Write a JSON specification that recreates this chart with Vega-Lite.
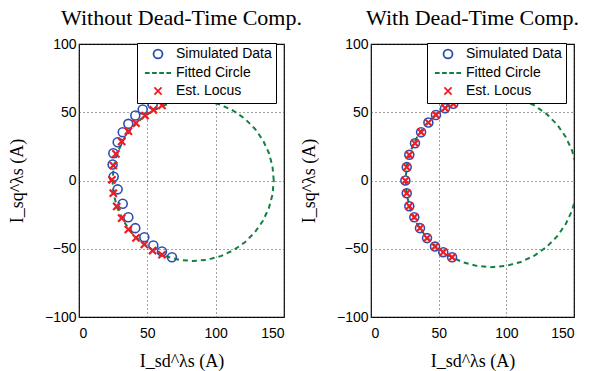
{
  "$schema": "https://vega.github.io/schema/vega-lite/v6.json",
  "background": "white",
  "padding": {"left": 7, "top": 6, "right": 5, "bottom": 3},
  "config": {
    "view": {"stroke": "black", "strokeWidth": 1.2},
    "title": {"font": "Liberation Serif", "fontSize": 22, "fontWeight": "normal", "color": "black", "offset": 7},
    "axis": {
      "labelFont": "Liberation Sans", "labelFontSize": 14, "labelColor": "black",
      "titleFont": "Liberation Serif", "titleFontSize": 18, "titleFontWeight": "normal", "titleColor": "black",
      "grid": true, "gridColor": "#333", "gridDash": [1, 3], "gridOpacity": 0.9, "gridWidth": 1,
      "domain": false, "ticks": false
    },
    "axisX": {"labelPadding": 9, "titlePadding": 12},
    "axisY": {"labelPadding": 3, "titlePadding": 18},
    "legend": {
      "padding": 4, "strokeColor": "black", "fillColor": "white",
      "labelFont": "Liberation Sans", "labelFontSize": 14, "labelColor": "black",
      "symbolSize": 80, "symbolStrokeWidth": 1.8, "symbolOffset": 10, "labelOffset": 11,
      "rowPadding": 3, "title": null, "cornerRadius": 0, "strokeWidth": 1
    }
  },
  "data": {"values": [
    {"panel": "L", "series": "Simulated Data", "x": 68, "y": -56.2},
    {"panel": "L", "series": "Simulated Data", "x": 60.7, "y": -52},
    {"panel": "L", "series": "Simulated Data", "x": 54.4, "y": -47.6},
    {"panel": "L", "series": "Simulated Data", "x": 47.8, "y": -41.5},
    {"panel": "L", "series": "Simulated Data", "x": 41.2, "y": -34.9},
    {"panel": "L", "series": "Simulated Data", "x": 36.1, "y": -26.9},
    {"panel": "L", "series": "Simulated Data", "x": 32, "y": -17},
    {"panel": "L", "series": "Simulated Data", "x": 28.3, "y": -6.5},
    {"panel": "L", "series": "Simulated Data", "x": 25.4, "y": 2.8},
    {"panel": "L", "series": "Simulated Data", "x": 24.6, "y": 11.7},
    {"panel": "L", "series": "Simulated Data", "x": 25.1, "y": 20},
    {"panel": "L", "series": "Simulated Data", "x": 28.3, "y": 28},
    {"panel": "L", "series": "Simulated Data", "x": 32, "y": 35.4},
    {"panel": "L", "series": "Simulated Data", "x": 36.1, "y": 41.5},
    {"panel": "L", "series": "Simulated Data", "x": 41.2, "y": 47.6},
    {"panel": "L", "series": "Simulated Data", "x": 46.6, "y": 52},
    {"panel": "L", "series": "Simulated Data", "x": 53.9, "y": 55.7},
    {"panel": "L", "series": "Est. Locus", "x": 60.7, "y": 55},
    {"panel": "L", "series": "Est. Locus", "x": 54.4, "y": 51.8},
    {"panel": "L", "series": "Est. Locus", "x": 48.3, "y": 47.6},
    {"panel": "L", "series": "Est. Locus", "x": 41.7, "y": 42},
    {"panel": "L", "series": "Est. Locus", "x": 36.1, "y": 36.1},
    {"panel": "L", "series": "Est. Locus", "x": 31.2, "y": 28.6},
    {"panel": "L", "series": "Est. Locus", "x": 27, "y": 19.5},
    {"panel": "L", "series": "Est. Locus", "x": 25.1, "y": 11},
    {"panel": "L", "series": "Est. Locus", "x": 24.1, "y": 0.5},
    {"panel": "L", "series": "Est. Locus", "x": 25.1, "y": -9.3},
    {"panel": "L", "series": "Est. Locus", "x": 27.6, "y": -19},
    {"panel": "L", "series": "Est. Locus", "x": 31.2, "y": -27.6},
    {"panel": "L", "series": "Est. Locus", "x": 36.1, "y": -35.9},
    {"panel": "L", "series": "Est. Locus", "x": 41.7, "y": -42},
    {"panel": "L", "series": "Est. Locus", "x": 47.8, "y": -46.9},
    {"panel": "L", "series": "Est. Locus", "x": 53.9, "y": -51.3},
    {"panel": "L", "series": "Est. Locus", "x": 60.7, "y": -54.4},
    {"panel": "R", "series": "Simulated Data", "x": 60.8, "y": 56.2},
    {"panel": "R", "series": "Simulated Data", "x": 54.7, "y": 53},
    {"panel": "R", "series": "Simulated Data", "x": 48, "y": 48},
    {"panel": "R", "series": "Simulated Data", "x": 42.4, "y": 42.5},
    {"panel": "R", "series": "Simulated Data", "x": 37, "y": 35.4},
    {"panel": "R", "series": "Simulated Data", "x": 32.5, "y": 27.3},
    {"panel": "R", "series": "Simulated Data", "x": 28.3, "y": 18.8},
    {"panel": "R", "series": "Simulated Data", "x": 26.4, "y": 9.8},
    {"panel": "R", "series": "Simulated Data", "x": 25.4, "y": 0},
    {"panel": "R", "series": "Simulated Data", "x": 26.4, "y": -9.3},
    {"panel": "R", "series": "Simulated Data", "x": 28.3, "y": -18.8},
    {"panel": "R", "series": "Simulated Data", "x": 32, "y": -26.9},
    {"panel": "R", "series": "Simulated Data", "x": 36.2, "y": -34.9},
    {"panel": "R", "series": "Simulated Data", "x": 41.4, "y": -42.2},
    {"panel": "R", "series": "Simulated Data", "x": 47.3, "y": -48.4},
    {"panel": "R", "series": "Simulated Data", "x": 53.4, "y": -52.5},
    {"panel": "R", "series": "Simulated Data", "x": 59.9, "y": -56.2},
    {"panel": "R", "series": "Est. Locus", "x": 60.8, "y": 56.2},
    {"panel": "R", "series": "Est. Locus", "x": 54.7, "y": 53},
    {"panel": "R", "series": "Est. Locus", "x": 48, "y": 48},
    {"panel": "R", "series": "Est. Locus", "x": 42.4, "y": 42.5},
    {"panel": "R", "series": "Est. Locus", "x": 37, "y": 35.4},
    {"panel": "R", "series": "Est. Locus", "x": 32.5, "y": 27.3},
    {"panel": "R", "series": "Est. Locus", "x": 28.3, "y": 18.8},
    {"panel": "R", "series": "Est. Locus", "x": 26.4, "y": 9.8},
    {"panel": "R", "series": "Est. Locus", "x": 25.4, "y": 0},
    {"panel": "R", "series": "Est. Locus", "x": 26.4, "y": -9.3},
    {"panel": "R", "series": "Est. Locus", "x": 28.3, "y": -18.8},
    {"panel": "R", "series": "Est. Locus", "x": 32, "y": -26.9},
    {"panel": "R", "series": "Est. Locus", "x": 36.2, "y": -34.9},
    {"panel": "R", "series": "Est. Locus", "x": 41.4, "y": -42.2},
    {"panel": "R", "series": "Est. Locus", "x": 47.3, "y": -48.4},
    {"panel": "R", "series": "Est. Locus", "x": 53.4, "y": -52.5},
    {"panel": "R", "series": "Est. Locus", "x": 59.9, "y": -56.2},
    {"panel": "L", "series": "Fitted Circle", "i": 0, "x": 142.5, "y": 0},
    {"panel": "L", "series": "Fitted Circle", "i": 1, "x": 141.6, "y": 10.24},
    {"panel": "L", "series": "Fitted Circle", "i": 2, "x": 138.94, "y": 20.18},
    {"panel": "L", "series": "Fitted Circle", "i": 3, "x": 134.6, "y": 29.5},
    {"panel": "L", "series": "Fitted Circle", "i": 4, "x": 128.7, "y": 37.92},
    {"panel": "L", "series": "Fitted Circle", "i": 5, "x": 121.42, "y": 45.2},
    {"panel": "L", "series": "Fitted Circle", "i": 6, "x": 113, "y": 51.1},
    {"panel": "L", "series": "Fitted Circle", "i": 7, "x": 103.68, "y": 55.44},
    {"panel": "L", "series": "Fitted Circle", "i": 8, "x": 93.74, "y": 58.1},
    {"panel": "L", "series": "Fitted Circle", "i": 9, "x": 83.5, "y": 59},
    {"panel": "L", "series": "Fitted Circle", "i": 10, "x": 73.26, "y": 58.1},
    {"panel": "L", "series": "Fitted Circle", "i": 11, "x": 63.32, "y": 55.44},
    {"panel": "L", "series": "Fitted Circle", "i": 12, "x": 54, "y": 51.1},
    {"panel": "L", "series": "Fitted Circle", "i": 13, "x": 45.58, "y": 45.2},
    {"panel": "L", "series": "Fitted Circle", "i": 14, "x": 38.3, "y": 37.92},
    {"panel": "L", "series": "Fitted Circle", "i": 15, "x": 32.4, "y": 29.5},
    {"panel": "L", "series": "Fitted Circle", "i": 16, "x": 28.06, "y": 20.18},
    {"panel": "L", "series": "Fitted Circle", "i": 17, "x": 25.4, "y": 10.24},
    {"panel": "L", "series": "Fitted Circle", "i": 18, "x": 24.5, "y": 0},
    {"panel": "L", "series": "Fitted Circle", "i": 19, "x": 25.4, "y": -10.24},
    {"panel": "L", "series": "Fitted Circle", "i": 20, "x": 28.06, "y": -20.18},
    {"panel": "L", "series": "Fitted Circle", "i": 21, "x": 32.4, "y": -29.5},
    {"panel": "L", "series": "Fitted Circle", "i": 22, "x": 38.3, "y": -37.92},
    {"panel": "L", "series": "Fitted Circle", "i": 23, "x": 45.58, "y": -45.2},
    {"panel": "L", "series": "Fitted Circle", "i": 24, "x": 54, "y": -51.1},
    {"panel": "L", "series": "Fitted Circle", "i": 25, "x": 63.32, "y": -55.44},
    {"panel": "L", "series": "Fitted Circle", "i": 26, "x": 73.26, "y": -58.1},
    {"panel": "L", "series": "Fitted Circle", "i": 27, "x": 83.5, "y": -59},
    {"panel": "L", "series": "Fitted Circle", "i": 28, "x": 93.74, "y": -58.1},
    {"panel": "L", "series": "Fitted Circle", "i": 29, "x": 103.68, "y": -55.44},
    {"panel": "L", "series": "Fitted Circle", "i": 30, "x": 113, "y": -51.1},
    {"panel": "L", "series": "Fitted Circle", "i": 31, "x": 121.42, "y": -45.2},
    {"panel": "L", "series": "Fitted Circle", "i": 32, "x": 128.7, "y": -37.92},
    {"panel": "L", "series": "Fitted Circle", "i": 33, "x": 134.6, "y": -29.5},
    {"panel": "L", "series": "Fitted Circle", "i": 34, "x": 138.94, "y": -20.18},
    {"panel": "L", "series": "Fitted Circle", "i": 35, "x": 141.6, "y": -10.24},
    {"panel": "L", "series": "Fitted Circle", "i": 36, "x": 142.5, "y": 0},
    {"panel": "R", "series": "Fitted Circle", "i": 0, "x": 152.5, "y": 0},
    {"panel": "R", "series": "Fitted Circle", "i": 1, "x": 151.53, "y": 11.03},
    {"panel": "R", "series": "Fitted Circle", "i": 2, "x": 148.67, "y": 21.72},
    {"panel": "R", "series": "Fitted Circle", "i": 3, "x": 143.99, "y": 31.75},
    {"panel": "R", "series": "Fitted Circle", "i": 4, "x": 137.64, "y": 40.82},
    {"panel": "R", "series": "Fitted Circle", "i": 5, "x": 129.82, "y": 48.64},
    {"panel": "R", "series": "Fitted Circle", "i": 6, "x": 120.75, "y": 54.99},
    {"panel": "R", "series": "Fitted Circle", "i": 7, "x": 110.72, "y": 59.67},
    {"panel": "R", "series": "Fitted Circle", "i": 8, "x": 100.03, "y": 62.53},
    {"panel": "R", "series": "Fitted Circle", "i": 9, "x": 89, "y": 63.5},
    {"panel": "R", "series": "Fitted Circle", "i": 10, "x": 77.97, "y": 62.53},
    {"panel": "R", "series": "Fitted Circle", "i": 11, "x": 67.28, "y": 59.67},
    {"panel": "R", "series": "Fitted Circle", "i": 12, "x": 57.25, "y": 54.99},
    {"panel": "R", "series": "Fitted Circle", "i": 13, "x": 48.18, "y": 48.64},
    {"panel": "R", "series": "Fitted Circle", "i": 14, "x": 40.36, "y": 40.82},
    {"panel": "R", "series": "Fitted Circle", "i": 15, "x": 34.01, "y": 31.75},
    {"panel": "R", "series": "Fitted Circle", "i": 16, "x": 29.33, "y": 21.72},
    {"panel": "R", "series": "Fitted Circle", "i": 17, "x": 26.47, "y": 11.03},
    {"panel": "R", "series": "Fitted Circle", "i": 18, "x": 25.5, "y": 0},
    {"panel": "R", "series": "Fitted Circle", "i": 19, "x": 26.47, "y": -11.03},
    {"panel": "R", "series": "Fitted Circle", "i": 20, "x": 29.33, "y": -21.72},
    {"panel": "R", "series": "Fitted Circle", "i": 21, "x": 34.01, "y": -31.75},
    {"panel": "R", "series": "Fitted Circle", "i": 22, "x": 40.36, "y": -40.82},
    {"panel": "R", "series": "Fitted Circle", "i": 23, "x": 48.18, "y": -48.64},
    {"panel": "R", "series": "Fitted Circle", "i": 24, "x": 57.25, "y": -54.99},
    {"panel": "R", "series": "Fitted Circle", "i": 25, "x": 67.28, "y": -59.67},
    {"panel": "R", "series": "Fitted Circle", "i": 26, "x": 77.97, "y": -62.53},
    {"panel": "R", "series": "Fitted Circle", "i": 27, "x": 89, "y": -63.5},
    {"panel": "R", "series": "Fitted Circle", "i": 28, "x": 100.03, "y": -62.53},
    {"panel": "R", "series": "Fitted Circle", "i": 29, "x": 110.72, "y": -59.67},
    {"panel": "R", "series": "Fitted Circle", "i": 30, "x": 120.75, "y": -54.99},
    {"panel": "R", "series": "Fitted Circle", "i": 31, "x": 129.82, "y": -48.64},
    {"panel": "R", "series": "Fitted Circle", "i": 32, "x": 137.64, "y": -40.82},
    {"panel": "R", "series": "Fitted Circle", "i": 33, "x": 143.99, "y": -31.75},
    {"panel": "R", "series": "Fitted Circle", "i": 34, "x": 148.67, "y": -21.72},
    {"panel": "R", "series": "Fitted Circle", "i": 35, "x": 151.53, "y": -11.03},
    {"panel": "R", "series": "Fitted Circle", "i": 36, "x": 152.5, "y": 0}
  ]},
  "bounds": "flush",
  "spacing": 87,
  "resolve": {"scale": {"color": "independent", "shape": "independent", "x": "independent", "y": "independent"}},
  "hconcat": [
    {
      "title": "Without Dead-Time Comp.",
      "width": 205, "height": 273,
      "transform": [{"filter": "datum.panel === 'L'"}],
      "encoding": {
        "x": {"field": "x", "type": "quantitative", "scale": {"domain": [0, 150], "nice": false}, "axis": {"values": [0, 50, 100, 150], "title": "I_sd^λs (A)"}},
        "y": {"field": "y", "type": "quantitative", "scale": {"domain": [-100, 100], "nice": false}, "axis": {"values": [-100, -50, 0, 50, 100], "title": "I_sq^λs (A)"}}
      },
      "layer": [
        {
          "transform": [{"filter": "datum.series === 'Fitted Circle'"}],
          "mark": {"type": "line", "clip": true, "color": "#12803e", "strokeWidth": 2, "strokeDash": [5, 4]},
          "encoding": {"order": {"field": "i", "type": "quantitative"}}
        },
        {
          "transform": [{"filter": "datum.series === 'Simulated Data'"}],
          "mark": {"type": "point", "filled": false, "strokeWidth": 1.6, "size": 80, "opacity": 1},
          "encoding": {
            "color": {"field": "series", "type": "nominal", "scale": {"domain": ["Simulated Data", "Fitted Circle", "Est. Locus"], "range": ["#2b4fb0", "#12803e", "#ee1c24"]}, "legend": {"orient": "none", "legendX": 58, "legendY": -1}},
            "shape": {"field": "series", "type": "nominal", "scale": {"domain": ["Simulated Data", "Fitted Circle", "Est. Locus"], "range": ["circle", "M-2.925,0L-1.875,0M-1.325,0L-0.275,0M0.275,0L1.325,0M1.875,0L2.925,0", "M-0.8,-0.8L0.8,0.8M-0.8,0.8L0.8,-0.8"]}, "legend": {"orient": "none", "legendX": 58, "legendY": -1}}
          }
        },
        {
          "transform": [{"filter": "datum.series === 'Est. Locus'"}],
          "mark": {"type": "point", "filled": false, "strokeWidth": 2.2, "size": 80, "opacity": 1},
          "encoding": {
            "color": {"field": "series", "type": "nominal", "scale": {"domain": ["Simulated Data", "Fitted Circle", "Est. Locus"], "range": ["#2b4fb0", "#12803e", "#ee1c24"]}, "legend": {"orient": "none", "legendX": 58, "legendY": -1}},
            "shape": {"field": "series", "type": "nominal", "scale": {"domain": ["Simulated Data", "Fitted Circle", "Est. Locus"], "range": ["circle", "M-2.925,0L-1.875,0M-1.325,0L-0.275,0M0.275,0L1.325,0M1.875,0L2.925,0", "M-0.8,-0.8L0.8,0.8M-0.8,0.8L0.8,-0.8"]}, "legend": {"orient": "none", "legendX": 58, "legendY": -1}}
          }
        }
      ]
    },
    {
      "title": "With Dead-Time Comp.",
      "width": 203, "height": 273,
      "transform": [{"filter": "datum.panel === 'R'"}],
      "encoding": {
        "x": {"field": "x", "type": "quantitative", "scale": {"domain": [0, 150], "nice": false}, "axis": {"values": [0, 50, 100, 150], "title": "I_sd^λs (A)"}},
        "y": {"field": "y", "type": "quantitative", "scale": {"domain": [-100, 100], "nice": false}, "axis": {"values": [-100, -50, 0, 50, 100], "title": "I_sq^λs (A)"}}
      },
      "layer": [
        {
          "transform": [{"filter": "datum.series === 'Fitted Circle'"}],
          "mark": {"type": "line", "clip": true, "color": "#12803e", "strokeWidth": 2, "strokeDash": [5, 4]},
          "encoding": {"order": {"field": "i", "type": "quantitative"}}
        },
        {
          "transform": [{"filter": "datum.series === 'Simulated Data'"}],
          "mark": {"type": "point", "filled": false, "strokeWidth": 1.6, "size": 80, "opacity": 1},
          "encoding": {
            "color": {"field": "series", "type": "nominal", "scale": {"domain": ["Simulated Data", "Fitted Circle", "Est. Locus"], "range": ["#2b4fb0", "#12803e", "#ee1c24"]}, "legend": {"orient": "none", "legendX": 56, "legendY": -1}},
            "shape": {"field": "series", "type": "nominal", "scale": {"domain": ["Simulated Data", "Fitted Circle", "Est. Locus"], "range": ["circle", "M-2.925,0L-1.875,0M-1.325,0L-0.275,0M0.275,0L1.325,0M1.875,0L2.925,0", "M-0.8,-0.8L0.8,0.8M-0.8,0.8L0.8,-0.8"]}, "legend": {"orient": "none", "legendX": 56, "legendY": -1}}
          }
        },
        {
          "transform": [{"filter": "datum.series === 'Est. Locus'"}],
          "mark": {"type": "point", "filled": false, "strokeWidth": 2.2, "size": 80, "opacity": 1},
          "encoding": {
            "color": {"field": "series", "type": "nominal", "scale": {"domain": ["Simulated Data", "Fitted Circle", "Est. Locus"], "range": ["#2b4fb0", "#12803e", "#ee1c24"]}, "legend": {"orient": "none", "legendX": 56, "legendY": -1}},
            "shape": {"field": "series", "type": "nominal", "scale": {"domain": ["Simulated Data", "Fitted Circle", "Est. Locus"], "range": ["circle", "M-2.925,0L-1.875,0M-1.325,0L-0.275,0M0.275,0L1.325,0M1.875,0L2.925,0", "M-0.8,-0.8L0.8,0.8M-0.8,0.8L0.8,-0.8"]}, "legend": {"orient": "none", "legendX": 56, "legendY": -1}}
          }
        }
      ]
    }
  ]
}
